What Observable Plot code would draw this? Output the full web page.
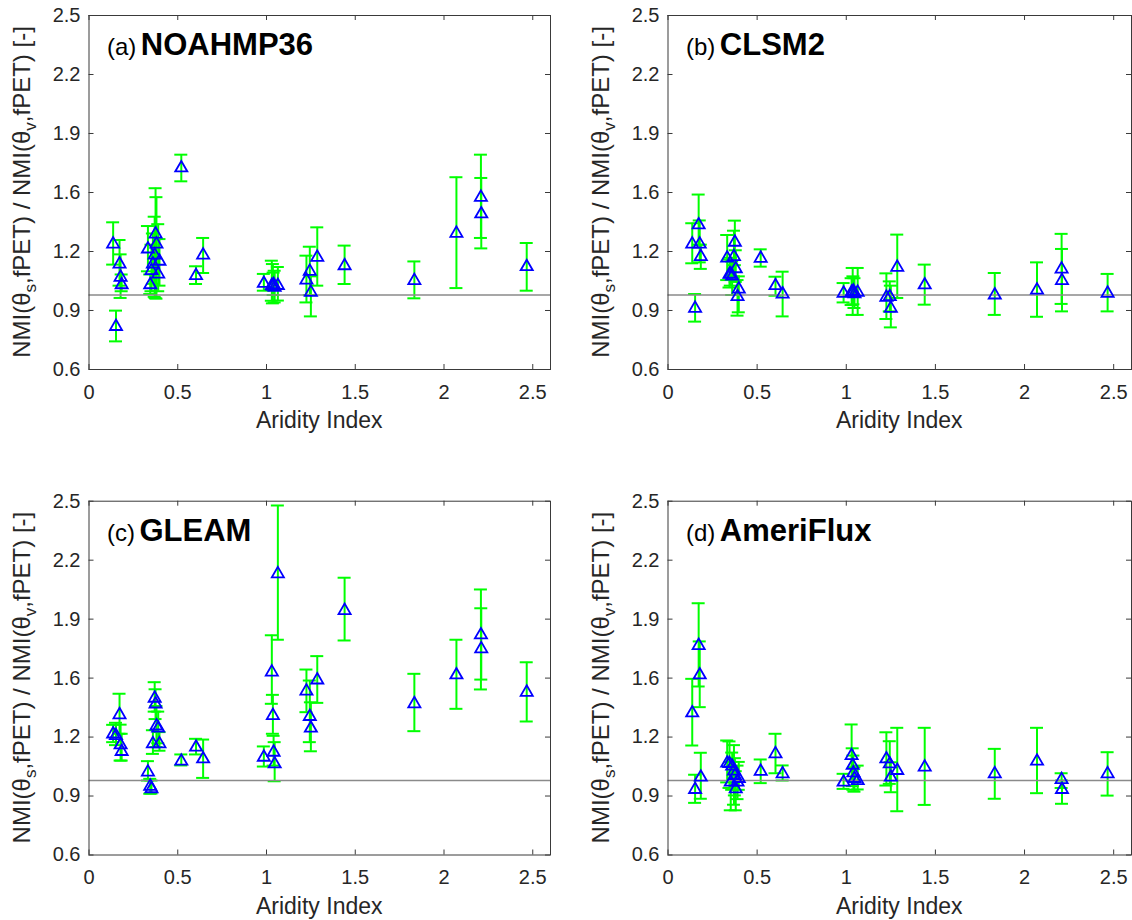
<!DOCTYPE html>
<html>
<head>
<meta charset="utf-8">
<script src="https://cdn.jsdelivr.net/npm/d3@7"></script>
<script src="https://cdn.jsdelivr.net/npm/@observablehq/plot@0.6"></script>
<style>
  body { margin: 0; background: #fff; }
  #wrap { position: relative; width: 1132px; height: 920px; background: #fff; overflow: hidden; }
</style>
</head>
<body>
<div id="wrap"></div>
<script>
// ---- data ----
const siteX = [0.136, 0.152, 0.172, 0.178, 0.184, 0.332, 0.345, 0.352, 0.360, 0.370, 0.375,
  0.380, 0.390, 0.397, 0.520, 0.603, 0.643, 0.985, 1.030, 1.036, 1.040, 1.046, 1.064,
  1.225, 1.244, 1.250, 1.286, 1.440, 1.833, 2.070, 2.208, 2.210, 2.466];

const noahMean = [1.282, 0.840, 1.175, 1.104, 1.064, 1.256, 1.064, 1.140, 1.175, 1.223, 1.336,
  1.282, 1.121, 1.190, 1.691, 1.113, 1.223, 1.071, 1.060, 1.055, 1.065, 1.050, 1.060,
  1.089, 1.136, 1.023, 1.211, 1.166, 1.086, 1.340, 1.533, 1.444, 1.161];
const noahLo = [1.163, 0.751, 1.050, 0.984, 1.020, 1.127, 1.005, 1.020, 1.060, 0.990, 0.984,
  0.980, 1.020, 1.050, 1.610, 1.059, 1.118, 1.023, 0.969, 0.955, 1.000, 0.960, 0.970,
  0.960, 1.000, 0.885, 1.050, 1.059, 0.982, 1.037, 1.306, 1.250, 1.023];
const noahHi = [1.390, 0.916, 1.295, 1.218, 1.110, 1.370, 1.110, 1.270, 1.330, 1.420, 1.573,
  1.525, 1.380, 1.300, 1.753, 1.154, 1.306, 1.113, 1.184, 1.166, 1.120, 1.130, 1.150,
  1.211, 1.259, 1.100, 1.363, 1.265, 1.180, 1.632, 1.753, 1.628, 1.279];

const clsmMean = [1.282, 0.937, 1.385, 1.282, 1.215, 1.207, 1.120, 1.121, 1.110, 1.215, 1.292,
  1.150, 1.000, 1.041, 1.206, 1.059, 1.014, 1.018, 1.023, 1.020, 1.030, 1.015, 1.023,
  0.996, 1.000, 0.937, 1.157, 1.063, 1.009, 1.035, 1.148, 1.086, 1.018];
const clsmLo = [1.170, 0.857, 1.270, 1.175, 1.140, 1.080, 1.040, 1.050, 1.000, 1.100, 1.160,
  1.070, 0.889, 0.907, 1.152, 0.996, 0.885, 0.960, 0.946, 0.893, 0.950, 0.930, 0.893,
  0.871, 0.912, 0.826, 0.984, 0.948, 0.893, 0.883, 0.952, 0.912, 0.912];
const clsmHi = [1.385, 1.005, 1.539, 1.400, 1.270, 1.322, 1.190, 1.200, 1.180, 1.345, 1.399,
  1.240, 1.080, 1.100, 1.245, 1.098, 1.125, 1.064, 1.090, 1.145, 1.100, 1.090, 1.145,
  1.116, 1.073, 1.050, 1.324, 1.163, 1.118, 1.175, 1.328, 1.247, 1.113];

const gleamMean = [1.259, 1.250, 1.362, 1.200, 1.165, 1.054, 0.978, 0.965, 1.206, 1.451, 1.420,
  1.302, 1.290, 1.206, 1.113, 1.188, 1.125, 1.134, 1.591, 1.358, 1.161, 1.098, 2.119,
  1.489, 1.353, 1.290, 1.549, 1.922, 1.421, 1.576, 1.791, 1.716, 1.483];
const gleamLo = [1.206, 1.190, 1.251, 1.107, 1.107, 1.000, 0.929, 0.930, 1.143, 1.370, 1.330,
  1.180, 1.200, 1.160, 1.081, 1.140, 1.014, 1.075, 1.412, 1.251, 1.080, 0.996, 1.756,
  1.367, 1.206, 1.157, 1.417, 1.752, 1.265, 1.385, 1.489, 1.542, 1.317];
const gleamHi = [1.299, 1.310, 1.466, 1.300, 1.251, 1.104, 1.009, 1.000, 1.270, 1.528, 1.490,
  1.400, 1.370, 1.260, 1.140, 1.224, 1.220, 1.183, 1.780, 1.460, 1.240, 1.206, 2.477,
  1.596, 1.537, 1.420, 1.668, 2.089, 1.573, 1.756, 2.026, 1.925, 1.635];

const fluxMean = [1.372, 0.961, 1.734, 1.576, 1.027, 1.102, 1.100, 1.000, 1.086, 1.060, 1.036,
  0.964, 1.000, 1.020, 1.058, 1.152, 1.045, 1.000, 1.143, 1.090, 1.050, 1.020, 1.009,
  1.125, 1.098, 1.027, 1.063, 1.081, 1.045, 1.113, 1.014, 0.961, 1.045];
const fluxLo = [1.188, 0.880, 1.505, 1.394, 0.902, 0.990, 0.960, 0.840, 0.950, 0.870, 0.920,
  0.840, 0.900, 0.950, 0.986, 1.039, 1.000, 0.955, 1.000, 0.970, 0.950, 0.940, 0.952,
  0.973, 0.982, 0.937, 0.835, 0.869, 0.902, 0.932, 0.960, 0.875, 0.919];
const fluxHi = [1.546, 1.031, 1.952, 1.747, 1.149, 1.215, 1.210, 1.100, 1.150, 1.190, 1.120,
  1.050, 1.080, 1.100, 1.113, 1.251, 1.081, 1.036, 1.301, 1.173, 1.134, 1.071, 1.080,
  1.259, 1.211, 1.098, 1.283, 1.283, 1.170, 1.283, 1.039, 1.000, 1.152];

const xTicks = [0, 0.5, 1, 1.5, 2, 2.5];
const xTickLabels = ["0", "0.5", "1", "1.5", "2", "2.5"];
const yTicks = [0.6, 0.9167, 1.2333, 1.55, 1.8667, 2.1833, 2.5];
const yTickLabels = ["0.6", "0.9", "1.2", "1.6", "1.9", "2.2", "2.5"];
const xDomain = [0, 2.6];
const yDomain = [0.6, 2.5];
const refValue = [1];

const panelLetters = ["(a)", "(b)", "(c)", "(d)"];
const panelNames = ["NOAHMP36", "CLSM2", "GLEAM", "AmeriFlux"];
const xTitle = "Aridity Index";

// ---- layout ----
const W = 566, H = 460;
const layout = [
  {left: 0,   top: 0,   ml: 88.5,  mr: 16, mt: 15,   mb: 91},
  {left: 566, top: 0,   ml: 101.5, mr: 1,  mt: 15,   mb: 91},
  {left: 0,   top: 460, ml: 88.5,  mr: 16, mt: 40.7, mb: 65.5},
  {left: 566, top: 460, ml: 101.5, mr: 1,  mt: 40.7, mb: 65.5}
];
const series = [
  [noahMean, noahLo, noahHi],
  [clsmMean, clsmLo, clsmHi],
  [gleamMean, gleamLo, gleamHi],
  [fluxMean, fluxLo, fluxHi]
];

const FONT = '"Liberation Sans", Arial, Helvetica, sans-serif';
const TXT = "#262626";
const AX = "#3a3a3a";
const wrap = document.getElementById("wrap");

series.forEach(([mean, lo, hi], p) => {
  const L = layout[p];
  const rows = siteX.map((x, i) => ({x, m: mean[i], lo: lo[i], hi: hi[i]}));
  const plotW = W - L.ml - L.mr;
  const plotH = H - L.mt - L.mb;

  const svg = Plot.plot({
    width: W, height: H,
    marginLeft: L.ml, marginRight: L.mr, marginTop: L.mt, marginBottom: L.mb,
    x: {domain: xDomain},
    y: {domain: yDomain},
    style: {fontFamily: FONT, fontSize: "20px", color: TXT, background: "white", overflow: "visible"},
    marks: [
      Plot.axisX(xTicks, {tickSize: 0, tickPadding: 15, fontSize: 20, fill: TXT, label: null,
        tickFormat: d => xTickLabels[xTicks.indexOf(d)]}),
      Plot.axisY(yTicks, {tickSize: 0, tickPadding: 8.5, fontSize: 20, fill: TXT, label: null,
        tickFormat: d => yTickLabels[yTicks.indexOf(d)]}),
      // inward ticks on all four sides
      Plot.ruleX(xTicks, {x: d => d, insetTop: plotH - 5, stroke: AX, strokeWidth: 1}),
      Plot.ruleX(xTicks, {x: d => d, insetBottom: plotH - 5, stroke: AX, strokeWidth: 1}),
      Plot.ruleY(yTicks, {y: d => d, insetRight: plotW - 5, stroke: AX, strokeWidth: 1}),
      Plot.ruleY(yTicks, {y: d => d, insetLeft: plotW - 5, stroke: AX, strokeWidth: 1}),
      // error bars
      Plot.ruleX(rows, {x: "x", y1: "lo", y2: "hi", stroke: "#00ff00", strokeWidth: 2}),
      Plot.ruleY(rows, {x1: "x", x2: "x", y: "lo", insetLeft: -6.5, insetRight: -6.5, stroke: "#00ff00", strokeWidth: 2}),
      Plot.ruleY(rows, {x1: "x", x2: "x", y: "hi", insetLeft: -6.5, insetRight: -6.5, stroke: "#00ff00", strokeWidth: 2}),
      // reference line
      Plot.ruleY(refValue, {stroke: "#8a8a8a", strokeWidth: 1.5}),
      // markers
      Plot.dot(rows, {x: "x", y: "m", symbol: "triangle", r: 4.5, dy: 1.7, fill: "none", stroke: "#0000ff", strokeWidth: 1.8}),
      Plot.frame({stroke: AX, strokeWidth: 1})
    ]
  });

  svg.style.position = "absolute";
  svg.style.left = L.left + "px";
  svg.style.top = L.top + "px";
  svg.style.maxWidth = "none";

  const s = d3.select(svg);
  // panel title
  const t = s.append("text")
    .attr("x", L.ml + 18.5).attr("y", L.mt + 40)
    .attr("text-anchor", "start")
    .attr("fill", "#000").style("font-family", FONT);
  t.append("tspan").attr("font-size", 24).text(panelLetters[p]);
  t.append("tspan").attr("dx", 4.5).attr("font-size", 31).attr("font-weight", "bold").text(panelNames[p]);

  // x title
  s.append("text")
    .attr("x", L.ml + plotW / 2).attr("y", L.mt + plotH + 59)
    .attr("text-anchor", "middle").attr("font-size", 23).attr("fill", TXT)
    .style("font-family", FONT).text(xTitle);

  // y title with subscripts
  const yt = s.append("text")
    .attr("transform", `translate(${L.ml - 58.5},${L.mt + plotH / 2}) rotate(-90)`)
    .attr("text-anchor", "middle").attr("font-size", 24).attr("fill", TXT)
    .style("font-family", FONT);
  yt.append("tspan").text("NMI(\u03B8");
  yt.append("tspan").attr("font-size", 17).attr("dy", 6).text("s");
  yt.append("tspan").attr("dy", -6).text(",fPET) / NMI(\u03B8");
  yt.append("tspan").attr("font-size", 17).attr("dy", 6).text("v");
  yt.append("tspan").attr("dy", -6).text(",fPET) [-]");

  wrap.appendChild(svg);
});
</script>
</body>
</html>
